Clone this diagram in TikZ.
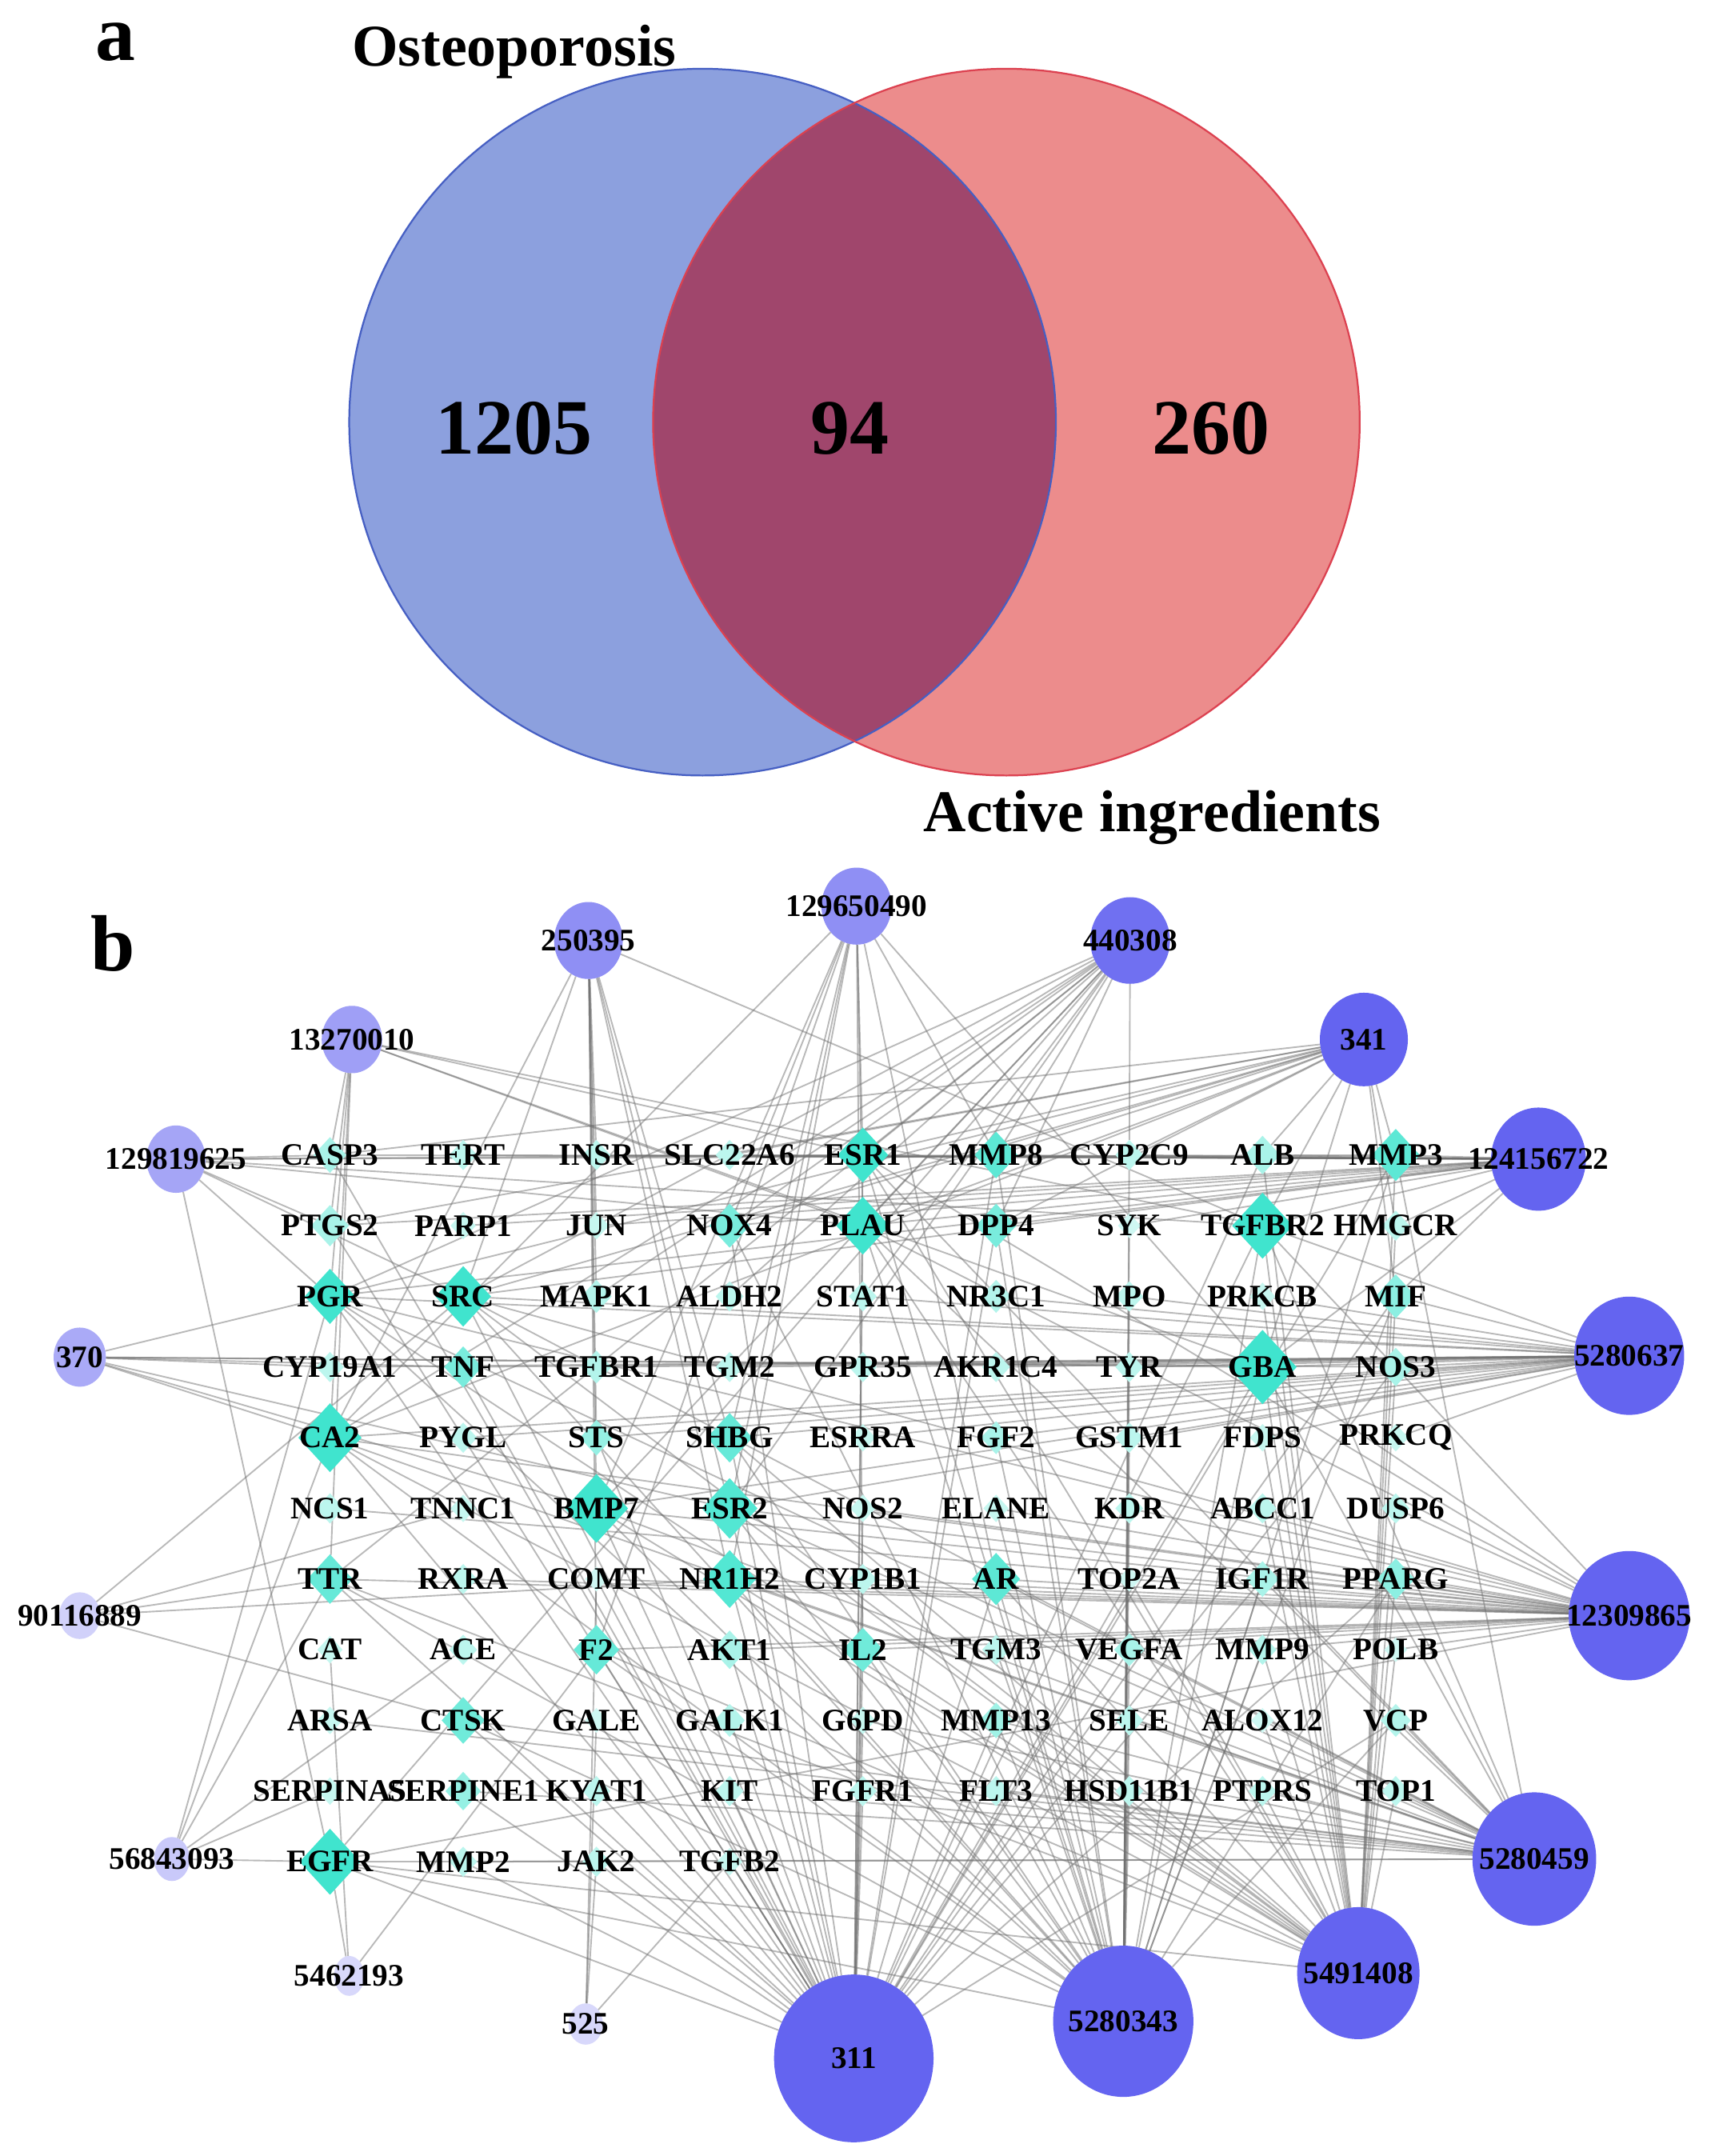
\documentclass[tikz,border=0pt]{standalone}
\usepackage{fontspec}
\setmainfont{Liberation Serif}
\usetikzlibrary{shapes.geometric,backgrounds}
\definecolor{osteoblue}{RGB}{140,160,222}
\definecolor{osteoline}{RGB}{70,95,195}
\definecolor{activered}{RGB}{236,140,140}
\definecolor{activeline}{RGB}{220,65,80}
\definecolor{sharedmix}{RGB}{160,70,108}
\definecolor{turq}{RGB}{64,228,206}
\definecolor{cpdblue}{RGB}{100,100,240}
\definecolor{linkgray}{RGB}{110,110,110}
\tikzset{
  gene/.style={diamond,draw=none,inner sep=0pt,outer sep=0pt},
  glabel/.style={font=\bfseries\fontsize{22.8}{24}\selectfont,inner sep=0pt,text=black},
  cpd/.style={ellipse,draw=none,inner sep=0pt,outer sep=0pt,label={[glabel]center:#1}},
  link/.style={draw=linkgray,line width=1.1pt,opacity=0.48},
  panel/.style={font=\bfseries\fontsize{58}{58}\selectfont,inner sep=0pt,anchor=base},
  setname/.style={font=\bfseries\fontsize{43}{43}\selectfont,inner sep=0pt,anchor=base},
  setsize/.style={font=\bfseries\fontsize{57}{57}\selectfont,inner sep=0pt,anchor=base}
}
\begin{document}
\begin{tikzpicture}[x=1pt,y=-1pt]
\useasboundingbox (0,0) rectangle (1244,1568);
\begin{scope}[on background layer]
\fill[white] (0,0) rectangle (1244,1568);
\end{scope}
% Drawing venn
\coordinate (osteo) at (511,307);
\coordinate (active) at (732,307);
\fill[osteoblue] (osteo) circle (257pt);
\fill[activered] (active) circle (257pt);
\begin{scope}
\clip (osteo) circle (257pt);
\fill[sharedmix] (active) circle (257pt);
\end{scope}
\draw[osteoline,line width=1.3pt] (osteo) circle (257pt);
\draw[activeline,line width=1.3pt] (active) circle (257pt);
\node[panel] at (84,44) {a};
\node[setname] at (374,48) {Osteoporosis};
\node[setname] at (838,605) {Active ingredients};
\node[setsize] at (374,330) {1205};
\node[setsize] at (618,330) {94};
\node[setsize] at (881,330) {260};
% Done with venn; drawing targets
\node[panel] at (82,706) {b};
\foreach \gn/\gsz/\gtint [count=\i from 0] in {
  CASP3/13/45,TERT/11/35,INSR/11/35,SLC22A6/11/35,ESR1/20/100,MMP8/17/85,CYP2C9/11/35,ALB/14/45,MMP3/19/85,
  PTGS2/15/45,PARP1/10/30,JUN/10/30,NOX4/16/70,PLAU/21/100,DPP4/16/70,SYK/9/25,TGFBR2/24/100,HMGCR/11/35,
  PGR/20/100,SRC/22/100,MAPK1/12/40,ALDH2/11/35,STAT1/11/35,NR3C1/12/40,MPO/11/35,PRKCB/10/30,MIF/16/60,
  CYP19A1/11/35,TNF/15/70,TGFBR1/12/40,TGM2/11/35,GPR35/11/35,AKR1C4/11/35,TYR/11/35,GBA/27/100,NOS3/14/45,
  CA2/25/100,PYGL/11/35,STS/13/55,SHBG/18/80,ESRRA/10/30,FGF2/12/45,GSTM1/11/35,FDPS/10/30,PRKCQ/10/30,
  NCS1/11/35,TNNC1/10/30,BMP7/25/100,ESR2/22/90,NOS2/10/30,ELANE/10/30,KDR/11/35,ABCC1/11/35,DUSP6/11/35,
  TTR/18/80,RXRA/11/35,COMT/9/25,NR1H2/21/90,CYP1B1/11/35,AR/19/85,TOP2A/9/25,IGF1R/13/45,PPARG/15/60,
  CAT/10/30,ACE/11/35,F2/18/80,AKT1/14/45,IL2/16/75,TGM3/11/35,VEGFA/12/45,MMP9/11/40,POLB/9/25,
  ARSA/10/30,CTSK/17/75,GALE/9/25,GALK1/12/40,G6PD/10/30,MMP13/13/50,SELE/11/35,ALOX12/9/25,VCP/12/40,
  SERPINA5/10/30,SERPINE1/14/55,KYAT1/11/35,KIT/11/35,FGFR1/11/35,FLT3/11/35,HSD11B1/11/35,PTPRS/11/35,TOP1/11/35,
  EGFR/24/100,MMP2/11/35,JAK2/11/35,TGFB2/10/30}{
  \pgfmathsetmacro\gx{240+96.9*mod(\i,9)}
  \pgfmathsetmacro\gy{840+51.4*int(\i/9)}
  \node[gene,minimum height=2*\gsz,minimum width=1.84*\gsz,fill=turq!\gtint,
    label={[glabel]center:\gn}] (\gn) at (\gx,\gy) {};
}
% Done with targets; drawing compounds
\node[cpd=129650490,minimum width=51,minimum height=56,fill=cpdblue!72] (c129650490) at (623,659) {};
\node[cpd=250395,minimum width=50,minimum height=56,fill=cpdblue!72] (c250395) at (428,684) {};
\node[cpd=440308,minimum width=58,minimum height=63,fill=cpdblue!92] (c440308) at (822,684) {};
\node[cpd=13270010,minimum width=44,minimum height=49,fill=cpdblue!62] (c13270010) at (256,756) {};
\node[cpd=341,minimum width=64,minimum height=68,fill=cpdblue] (c341) at (992,756) {};
\node[cpd=129819625,minimum width=43,minimum height=49,fill=cpdblue!58] (c129819625) at (128,843) {};
\node[cpd=124156722,minimum width=69,minimum height=75,fill=cpdblue] (c124156722) at (1119,843) {};
\node[cpd=370,minimum width=38,minimum height=43,fill=cpdblue!55] (c370) at (58,987) {};
\node[cpd=5280637,minimum width=80,minimum height=86,fill=cpdblue] (c5280637) at (1185,986) {};
\node[cpd=90116889,minimum width=30,minimum height=34,fill=cpdblue!30] (c90116889) at (58,1175) {};
\node[cpd=12309865,minimum width=88,minimum height=94,fill=cpdblue] (c12309865) at (1185,1175) {};
\node[cpd=56843093,minimum width=26,minimum height=32,fill=cpdblue!35] (c56843093) at (125,1352) {};
\node[cpd=5280459,minimum width=90,minimum height=97,fill=cpdblue] (c5280459) at (1116,1352) {};
\node[cpd=5462193,minimum width=22,minimum height=29,fill=cpdblue!25] (c5462193) at (254,1437) {};
\node[cpd=5491408,minimum width=89,minimum height=96,fill=cpdblue] (c5491408) at (988,1435) {};
\node[cpd=525,minimum width=25,minimum height=30,fill=cpdblue!25] (c525) at (426,1472) {};
\node[cpd=5280343,minimum width=102,minimum height=110,fill=cpdblue] (c5280343) at (817,1470) {};
\node[cpd=311,minimum width=116,minimum height=122,fill=cpdblue] (c311) at (621,1497) {};
% Done with compounds; drawing links
\begin{scope}[on background layer]
\foreach \g in {ESR1,PLAU,TGFBR2,GBA,CA2,BMP7,ESR2,SRC,PGR,NR1H2,EGFR,AR,MMP3,F2,IL2,TTR,SHBG,CTSK,MMP8,DPP4,NOX4,MIF,TNF,PTGS2,AKT1,SERPINE1,STS,MMP13,VCP,GALK1,VEGFA,IGF1R,PPARG,CASP3,ALB,NOS3,JAK2,TGFB2,KIT,FGFR1,G6PD,GALE,MMP2,KYAT1,NOS2,COMT,CYP1B1,TOP2A}
  \draw[link] (c311) -- (\g);
\foreach \g in {GBA,TGFBR2,CA2,BMP7,ESR2,EGFR,SRC,PGR,PLAU,ESR1,NR1H2,AR,MMP3,MMP8,F2,IL2,TTR,SHBG,CTSK,MIF,DPP4,NOX4,PPARG,IGF1R,MMP13,VCP,SELE,HSD11B1,FLT3,TGM3,VEGFA,MMP9,KDR,ELANE,FGF2,CYP2C9,SYK,MPO,TYR,GSTM1}
  \draw[link] (c5280343) -- (\g);
\foreach \g in {GBA,TGFBR2,CA2,BMP7,ESR2,EGFR,SRC,PGR,PLAU,ESR1,NR1H2,AR,MMP3,F2,TTR,SHBG,MIF,PPARG,NOS3,ALB,MMP9,ALOX12,PTPRS,TOP1,POLB,ABCC1,DUSP6,FDPS,PRKCB,HMGCR,MMP13,TOP2A,CYP1B1}
  \draw[link] (c5491408) -- (\g);
\foreach \g in {GBA,TGFBR2,CA2,BMP7,ESR2,EGFR,SRC,PGR,NR1H2,AR,ESR1,PLAU,TTR,F2,IL2,PPARG,IGF1R,POLB,MMP9,VEGFA,TOP2A,DUSP6,ABCC1,KDR,ELANE,NOS2,CYP1B1,RXRA,COMT,TGM3,AKT1,NCS1}
  \draw[link] (c12309865) -- (\g);
\foreach \g in {GBA,TGFBR2,CA2,BMP7,ESR2,EGFR,SRC,PGR,NR1H2,AR,ESR1,PLAU,MMP3,TOP1,PTPRS,HSD11B1,VCP,ALOX12,SELE,MMP13,G6PD,FGFR1,KIT,FLT3,IGF1R,PPARG,CTSK,SERPINE1,ARSA,MMP2}
  \draw[link] (c5280459) -- (\g);
\foreach \g in {GBA,TGFBR2,CA2,BMP7,ESR2,SRC,PGR,MIF,NOS3,PRKCQ,FDPS,GSTM1,TYR,AKR1C4,GPR35,TGM2,TGFBR1,TNF,CYP19A1,PRKCB,MPO,NR3C1,STAT1,ESRRA,FGF2,SHBG,STS,PYGL}
  \draw[link] (c5280637) -- (\g);
\foreach \g in {GBA,TGFBR2,ESR1,PLAU,MMP3,ALB,CYP2C9,MMP8,SLC22A6,INSR,TERT,CASP3,HMGCR,SYK,DPP4,NOX4,JUN,PARP1,PTGS2,MIF,PGR,SRC}
  \draw[link] (c124156722) -- (\g);
\foreach \g in {ESR1,MMP8,MMP3,ALB,CYP2C9,TGFBR2,PLAU,DPP4,NOX4,PTGS2,CASP3,SRC,PGR,CA2,GBA,HMGCR,MIF,SLC22A6}
  \draw[link] (c341) -- (\g);
\foreach \g in {ESR1,PLAU,MMP8,DPP4,CYP2C9,NOX4,SRC,PGR,CA2,BMP7,ESR2,TTR,EGFR,MAPK1,ALDH2,STAT1}
  \draw[link] (c440308) -- (\g);
\foreach \g in {ESR1,PLAU,NOX4,CA2,BMP7,ESR2,NR1H2,SHBG,F2,IL2,AR,MMP8,GBA}
  \draw[link] (c129650490) -- (\g);
\foreach \g in {INSR,JUN,MAPK1,STS,BMP7,ESR2,SHBG,NR1H2,F2,CA2,SRC,TGFBR2}
  \draw[link] (c250395) -- (\g);
\foreach \g in {CASP3,PTGS2,PGR,CA2,TTR,ESR1,PLAU,TGFBR2,GBA}
  \draw[link] (c13270010) -- (\g);
\foreach \g in {CASP3,PTGS2,PGR,SRC,ESR1,PLAU,TGFBR2,MMP3,EGFR}
  \draw[link] (c129819625) -- (\g);
\foreach \g in {PGR,CYP19A1,TNF,CA2,BMP7,ESR2,GBA,NOS3}
  \draw[link] (c370) -- (\g);
\foreach \g in {TTR,NR1H2,SRC,CTSK,TNNC1}
  \draw[link] (c90116889) -- (\g);
\foreach \g in {EGFR,SERPINA5,CA2,TTR,PGR,ACE}
  \draw[link] (c56843093) -- (\g);
\foreach \g in {EGFR,CAT,F2}
  \draw[link] (c5462193) -- (\g);
\foreach \g in {JAK2,TGFB2,GALE,COMT}
  \draw[link] (c525) -- (\g);
\end{scope}
% Done with links
\end{tikzpicture}
\end{document}
